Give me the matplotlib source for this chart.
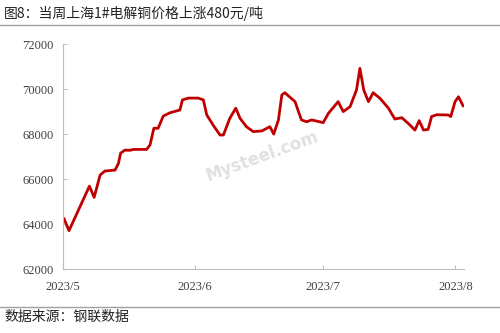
import pandas as pd
import matplotlib
matplotlib.use("Agg")
import matplotlib.pyplot as plt
from matplotlib.lines import Line2D

plt.rcParams['font.family'] = ['Liberation Serif', 'Noto Sans CJK SC', 'DejaVu Sans']

# 上海1#电解铜价格 (元/吨), x = days since 2023-05-01
day_offset = [0.2, 1.4, 4.0, 6.2, 7.3, 8.7, 9.8, 12.2, 13.0, 13.5, 14.5, 15.7, 16.5,
              19.6, 20.4, 21.3, 22.3, 23.5, 25.1, 27.4, 28.0, 29.4, 31.7, 32.9, 33.7,
              35.2, 36.8, 37.6, 39.1, 40.5, 41.5, 43.0, 44.6, 46.6, 48.5, 49.4, 50.5,
              51.3, 52.0, 54.4, 55.2, 55.9, 57.1, 58.3, 61.0, 62.2, 64.5, 65.7, 67.3,
              68.8, 69.6, 70.5, 71.6, 72.7, 74.3, 76.3, 77.0, 77.8, 79.4, 80.9, 82.5,
              83.5, 84.5, 85.6, 86.4, 87.6, 90.3, 90.9, 91.9, 92.7, 93.8]
price = [64270, 63720, 64790, 65700, 65200, 66190, 66370, 66410, 66710, 67160, 67300,
         67290, 67330, 67330, 67530, 68270, 68270, 68810, 68960, 69080, 69530, 69610,
         69610, 69530, 68860, 68410, 67970, 67970, 68710, 69160, 68710, 68340, 68120,
         68150, 68340, 68010, 68640, 69750, 69850, 69450, 69010, 68640, 68560, 68640,
         68520, 68930, 69450, 69010, 69230, 69970, 70930, 69970, 69450, 69850, 69600,
         69160, 68930, 68680, 68740, 68490, 68190, 68610, 68190, 68220, 68790, 68870,
         68860, 68790, 69450, 69670, 69260]
tick_dates = ["2023-05-01", "2023-06-01", "2023-07-01", "2023-08-01"]
tick_labels = ["2023/5", "2023/6", "2023/7", "2023/8"]
y_ticks = [62000, 64000, 66000, 68000, 70000, 72000]

title = "图8：当周上海1#电解铜价格上涨480元/吨"
source = "数据来源：钢联数据"


def main():
    start = pd.Timestamp("2023-05-01")
    dates = start + pd.to_timedelta(day_offset, unit="D")

    fig = plt.figure(figsize=(5, 3.33), dpi=100)
    ax = fig.add_axes([0.126, 0.191, 0.802, 0.676])

    ax.plot(dates, price, color="#C00000", lw=2.0, solid_joinstyle="round",
            solid_capstyle="round")

    ax.set_ylim(62000, 72000)
    ax.set_yticks(y_ticks)
    ax.set_xlim(start, start + pd.Timedelta(days=94))
    ax.set_xticks(pd.to_datetime(tick_dates))
    ax.set_xticklabels(tick_labels)

    for s in ["top", "right"]:
        ax.spines[s].set_visible(False)
    for s in ["left", "bottom"]:
        ax.spines[s].set_color("#bfbfbf")
        ax.spines[s].set_linewidth(0.8)
    ax.tick_params(axis="both", direction="in", length=3, color="#bfbfbf",
                   labelsize=9, labelcolor="#404040")
    ax.tick_params(axis="y", pad=7)
    ax.tick_params(axis="x", pad=8)

    # watermark
    fig.text(0.525, 0.53, "Mysteel.com", fontsize=12, color="#d9d9d9", alpha=0.8,
             rotation=20, ha="center", va="center", family=["DejaVu Sans"],
             fontweight="bold")

    fig.text(0.008, 0.96, title, fontsize=10, color="#222222", va="center",
             family=["Noto Sans CJK SC", "DejaVu Sans"])
    fig.text(0.008, 0.048, source, fontsize=10, color="#222222", va="center",
             family=["Noto Sans CJK SC", "DejaVu Sans"])
    fig.add_artist(Line2D([0, 1], [1 - 25.3 / 333, 1 - 25.3 / 333],
                          color="#a0a0a0", lw=1.0, transform=fig.transFigure))
    fig.add_artist(Line2D([0, 1], [1 - 307 / 333, 1 - 307 / 333],
                          color="#a0a0a0", lw=1.0, transform=fig.transFigure))

    fig.savefig("out.png", dpi=100)


if __name__ == "__main__":
    main()
